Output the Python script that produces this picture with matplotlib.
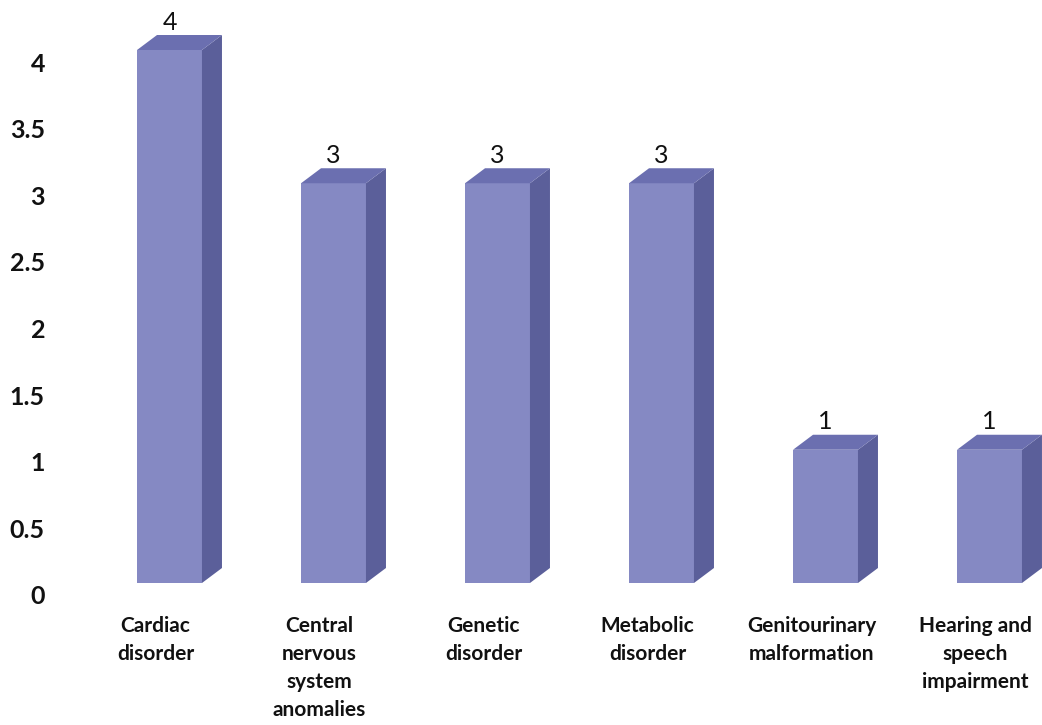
import matplotlib.pyplot as plt
from matplotlib.patches import Polygon
from matplotlib.transforms import ScaledTranslation

# Cases per category
categories = ['Cardiac\ndisorder', 'Central\nnervous\nsystem\nanomalies', 'Genetic\ndisorder',
              'Metabolic\ndisorder', 'Genitourinary\nmalformation', 'Hearing and\nspeech\nimpairment']
counts = [4, 3, 3, 3, 1, 1]
yticks = [0, 0.5, 1, 1.5, 2, 2.5, 3, 3.5, 4]
ytick_labels = ['0', '0.5', '1', '1.5', '2', '2.5', '3', '3.5', '4']

front_color = '#8589c3'
side_color = '#5b5f9a'
top_color = '#6b6fb0'

plt.rcParams['font.family'] = ['Lato', 'DejaVu Sans']

W, H = 1042, 725
fig = plt.figure(figsize=(W / 100, H / 100), dpi=100)
# axes placed in pixel terms: left edge 60px, zero line 142px from bottom
ax = fig.add_axes([60 / W, 142 / H, (W - 60) / W, (H - 142) / H])
ax.set_xlim((60 - 169.5) / 164, (W - 169.5) / 164)
ax.set_ylim(0, (H - 142) / 133.25)
ax.axis('off')

bar_w = 0.396
dx = 20 / 164      # depth of the 3D side, in x units
dy = 15 / 133.25   # depth of the 3D top, in y units

for i, v in enumerate(counts):
    x0, x1 = i - bar_w / 2, i + bar_w / 2
    ax.bar(i, v, width=bar_w, color=front_color, zorder=2)
    ax.add_patch(Polygon([(x1, 0), (x1 + dx, dy), (x1 + dx, v + dy), (x1, v)],
                         closed=True, facecolor=side_color, edgecolor='none', zorder=2))
    ax.add_patch(Polygon([(x0, v), (x1, v), (x1 + dx, v + dy), (x0 + dx, v + dy)],
                         closed=True, facecolor=top_color, edgecolor='none', zorder=2))
    ax.annotate(str(v), (i, v + dy), xytext=(0, 1), textcoords='offset points',
                ha='center', va='bottom', fontsize=18, color='#111111')

# y tick labels sit a little below the front-face grid
shift_y = ScaledTranslation(-15 / 100, -14 / 100, fig.dpi_scale_trans)
for t, lab in zip(yticks, ytick_labels):
    ax.text(0, t, lab, transform=ax.get_yaxis_transform() + shift_y,
            ha='right', va='center', fontsize=18, fontweight='bold', color='#111111')

# category labels under each bar
shift_x = ScaledTranslation(-14 / 100, -33 / 100, fig.dpi_scale_trans)
for i, lab in enumerate(categories):
    ax.text(i, 0, lab, transform=ax.transData + shift_x, ha='center', va='top',
            multialignment='center', fontsize=15, fontweight='bold', color='#111111',
            linespacing=1.5)

fig.savefig('out.png', dpi=100)
